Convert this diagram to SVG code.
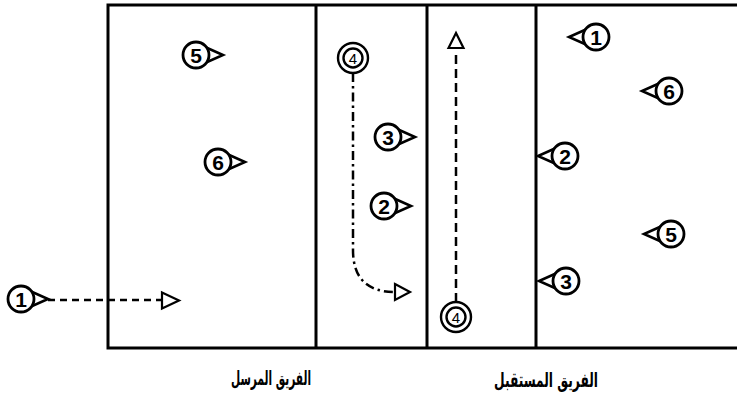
<svg xmlns="http://www.w3.org/2000/svg" width="737" height="399" viewBox="0 0 737 399">
  <defs>
    <style>
      .court { fill: none; stroke: #000; stroke-width: 3; }
      .ring { fill: #fff; stroke: #000; stroke-width: 2.8; }
      .ring2 { fill: #fff; stroke: #000; stroke-width: 2.4; }
      .tip { fill: #fff; stroke: #000; stroke-width: 2.6; stroke-linejoin: miter; }
      .num { font-family: "Liberation Sans", Arial, sans-serif; font-size: 21px; font-weight: bold; text-anchor: middle; fill: #000; }
      .num4 { font-family: "Liberation Sans", Arial, sans-serif; font-size: 15px; text-anchor: middle; fill: #000; }
      .path { fill: none; stroke: #000; stroke-width: 2.5; }
      .head { fill: #fff; stroke: #000; stroke-width: 2.2; stroke-linejoin: miter; }
      .label { font-family: "DejaVu Sans", sans-serif; font-size: 20px; font-weight: bold; fill: #000; }
    </style>
    <!-- player facing right: pointer then disc -->
    <g id="pR">
      <polygon class="tip" points="9,-8 27,0 9,8"/>
      <circle class="ring" r="13"/>
    </g>
    <!-- player facing left -->
    <g id="pL">
      <polygon class="tip" points="-9,-8 -27,0 -9,8"/>
      <circle class="ring" r="13"/>
    </g>
    <!-- server marker: double ring -->
    <g id="pS">
      <circle class="ring2" r="15"/>
      <circle class="ring2" r="9.5"/>
    </g>
  </defs>
  <rect width="737" height="399" fill="#fff"/>

  <!-- court -->
  <g id="court">
    <path class="court" d="M737,5 H108 V348 H737"/>
    <line class="court" x1="316" y1="5" x2="316" y2="348"/>
    <line class="court" x1="427" y1="5" x2="427" y2="348"/>
    <line class="court" x1="536" y1="5" x2="536" y2="348"/>
  </g>

  <!-- movement paths -->
  <g id="connectors">
    <line class="path" x1="48" y1="300" x2="161" y2="300" stroke-dasharray="7 5"/>
    <polygon class="head" points="162,292.5 179,300.5 162,308.5"/>
    <path class="path" d="M353,73 V250 Q353,292 395,292" stroke-dasharray="9 4 2.5 4"/>
    <polygon class="head" points="395,284 410,292 395,300"/>
    <line class="path" x1="456" y1="302" x2="456" y2="50" stroke-dasharray="9 5"/>
    <polygon class="head" points="448.5,48 456,33 463.5,48"/>
  </g>

  <!-- serving team -->
  <g id="s1"><use href="#pR" x="21" y="299"/><text class="num" x="21" y="306.5">1</text></g>
  <g id="s5"><use href="#pR" x="196" y="55"/><text class="num" x="196" y="62.5">5</text></g>
  <g id="s6"><use href="#pR" x="218" y="162"/><text class="num" x="218" y="169.5">6</text></g>
  <g id="s4"><use href="#pS" x="353" y="58"/><text class="num4" x="353" y="63.5">4</text></g>
  <g id="s3"><use href="#pR" x="388" y="137"/><text class="num" x="388" y="144.5">3</text></g>
  <g id="s2"><use href="#pR" x="384" y="206"/><text class="num" x="384" y="213.5">2</text></g>

  <!-- receiving team -->
  <g id="r4"><use href="#pS" x="456" y="317"/><text class="num4" x="456" y="322.5">4</text></g>
  <g id="r1"><use href="#pL" x="596" y="37"/><text class="num" x="596" y="44.5">1</text></g>
  <g id="r6"><use href="#pL" x="669" y="91"/><text class="num" x="669" y="98.5">6</text></g>
  <g id="r2"><use href="#pL" x="565" y="156"/><text class="num" x="565" y="163.5">2</text></g>
  <g id="r5"><use href="#pL" x="671" y="234"/><text class="num" x="671" y="241.5">5</text></g>
  <g id="r3"><use href="#pL" x="566" y="281"/><text class="num" x="566" y="288.5">3</text></g>

  <!-- team labels -->
  <text class="label" x="271" y="385" text-anchor="middle" direction="rtl" textLength="80" lengthAdjust="spacingAndGlyphs">الفريق المرسل</text>
  <text class="label" x="546" y="387" text-anchor="middle" direction="rtl" textLength="104" lengthAdjust="spacingAndGlyphs">الفريق المستقبل</text>
</svg>
